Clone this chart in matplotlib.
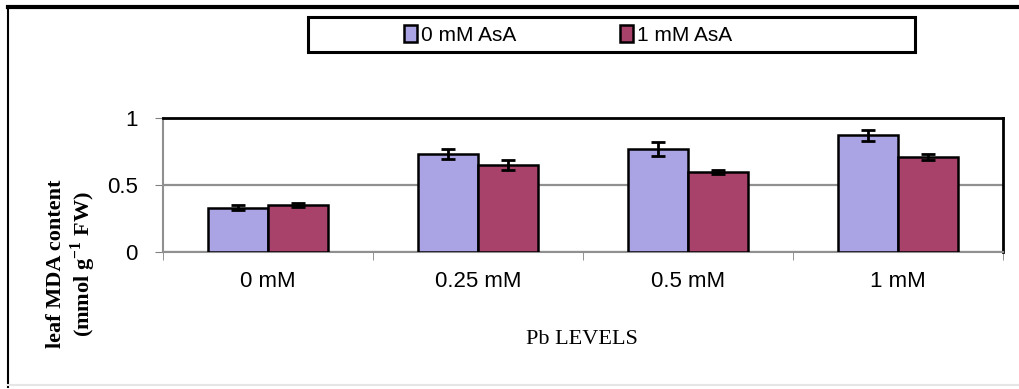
import matplotlib

matplotlib.use("Agg")
import matplotlib.pyplot as plt
import numpy as np
from matplotlib.patches import Rectangle
from matplotlib.lines import Line2D

levels = ["0 mM", "0.25 mM", "0.5 mM", "1 mM"]
asa0 = [0.33, 0.73, 0.77, 0.87]
asa0_err = [0.02, 0.035, 0.05, 0.04]
asa1 = [0.35, 0.65, 0.60, 0.71]
asa1_err = [0.015, 0.035, 0.015, 0.025]
series_names = ["0 mM AsA", "1 mM AsA"]

sans = ["Liberation Sans", "DejaVu Sans"]
serif = ["Liberation Serif", "DejaVu Serif"]

fig = plt.figure(figsize=(10.19, 3.89), dpi=100)
ax = fig.add_axes([163 / 1019, 1 - 252 / 389, 840 / 1019, 134 / 389])

x = np.arange(len(levels))
w = 0.286
err_kw = dict(ecolor="black", elinewidth=2, capsize=5, capthick=2)
ax.bar(x - w / 2, asa0, w, yerr=asa0_err, color="#aaa4e4", edgecolor="black",
       linewidth=1.8, error_kw=err_kw, zorder=3, label=series_names[0])
ax.bar(x + w / 2, asa1, w, yerr=asa1_err, color="#a9426b", edgecolor="black",
       linewidth=1.8, error_kw=err_kw, zorder=3, label=series_names[1])

ax.set_xlim(-0.5, len(levels) - 0.5)
ax.set_ylim(0, 1)
ax.set_yticks([0, 0.5, 1])
ax.set_yticklabels(["0", "0.5", "1"], family=sans, fontsize=16)
ax.set_xticks(x)
ax.set_xticklabels(levels, family=sans, fontsize=16)
ax.set_xticks(np.arange(len(levels) + 1) - 0.5, minor=True)
ax.tick_params(axis="x", which="major", length=0, pad=14)
ax.tick_params(axis="x", which="minor", length=6, color="#808080", direction="out")
ax.tick_params(axis="y", length=6, color="#808080", pad=12)
ax.yaxis.grid(True, color="#909090", linewidth=1.6, zorder=0)

for side in ["left", "bottom"]:
    ax.spines[side].set_color("#909090")
    ax.spines[side].set_linewidth(1.5)
for side in ["top", "right"]:
    ax.spines[side].set_color("black")
    ax.spines[side].set_linewidth(2)

fig.text(582 / 1019, 1 - 340 / 389, "Pb LEVELS", family=serif, fontsize=16,
         ha="center", va="center")
fig.text(72 / 1019, 1 - 264 / 389, "leaf MDA content\n(mmol g$^{\\mathregular{-1}}$ FW)",
         family=serif, fontsize=16, fontweight="bold", rotation=90,
         ha="center", va="center", linespacing=1.15)

# outer frame
fig.add_artist(Line2D([8 / 1019, 8 / 1019], [2 / 389, 1 - 7 / 389], color="black",
                      linewidth=1.5, transform=fig.transFigure))
fig.add_artist(Line2D([8 / 1019, 1], [1 - 7 / 389, 1 - 7 / 389], color="black",
                      linewidth=3, transform=fig.transFigure))
fig.add_artist(Line2D([8 / 1019, 1], [4 / 389, 4 / 389], color="#e6e6e6",
                      linewidth=1.5, transform=fig.transFigure))

# legend box
fig.add_artist(Rectangle((308 / 1019, 1 - 52 / 389), 607 / 1019, 35 / 389,
                         fill=False, edgecolor="black", linewidth=2.2,
                         transform=fig.transFigure))
handles, labels = ax.get_legend_handles_labels()
leg = fig.legend(handles, labels, loc="center", bbox_to_anchor=(568 / 1019, 1 - 35 / 389),
                 ncol=2, frameon=False, prop={"family": sans, "size": 15},
                 handlelength=0.6, handleheight=0.9, handletextpad=0.2,
                 columnspacing=5.0)

fig.savefig("out.png", dpi=100)
